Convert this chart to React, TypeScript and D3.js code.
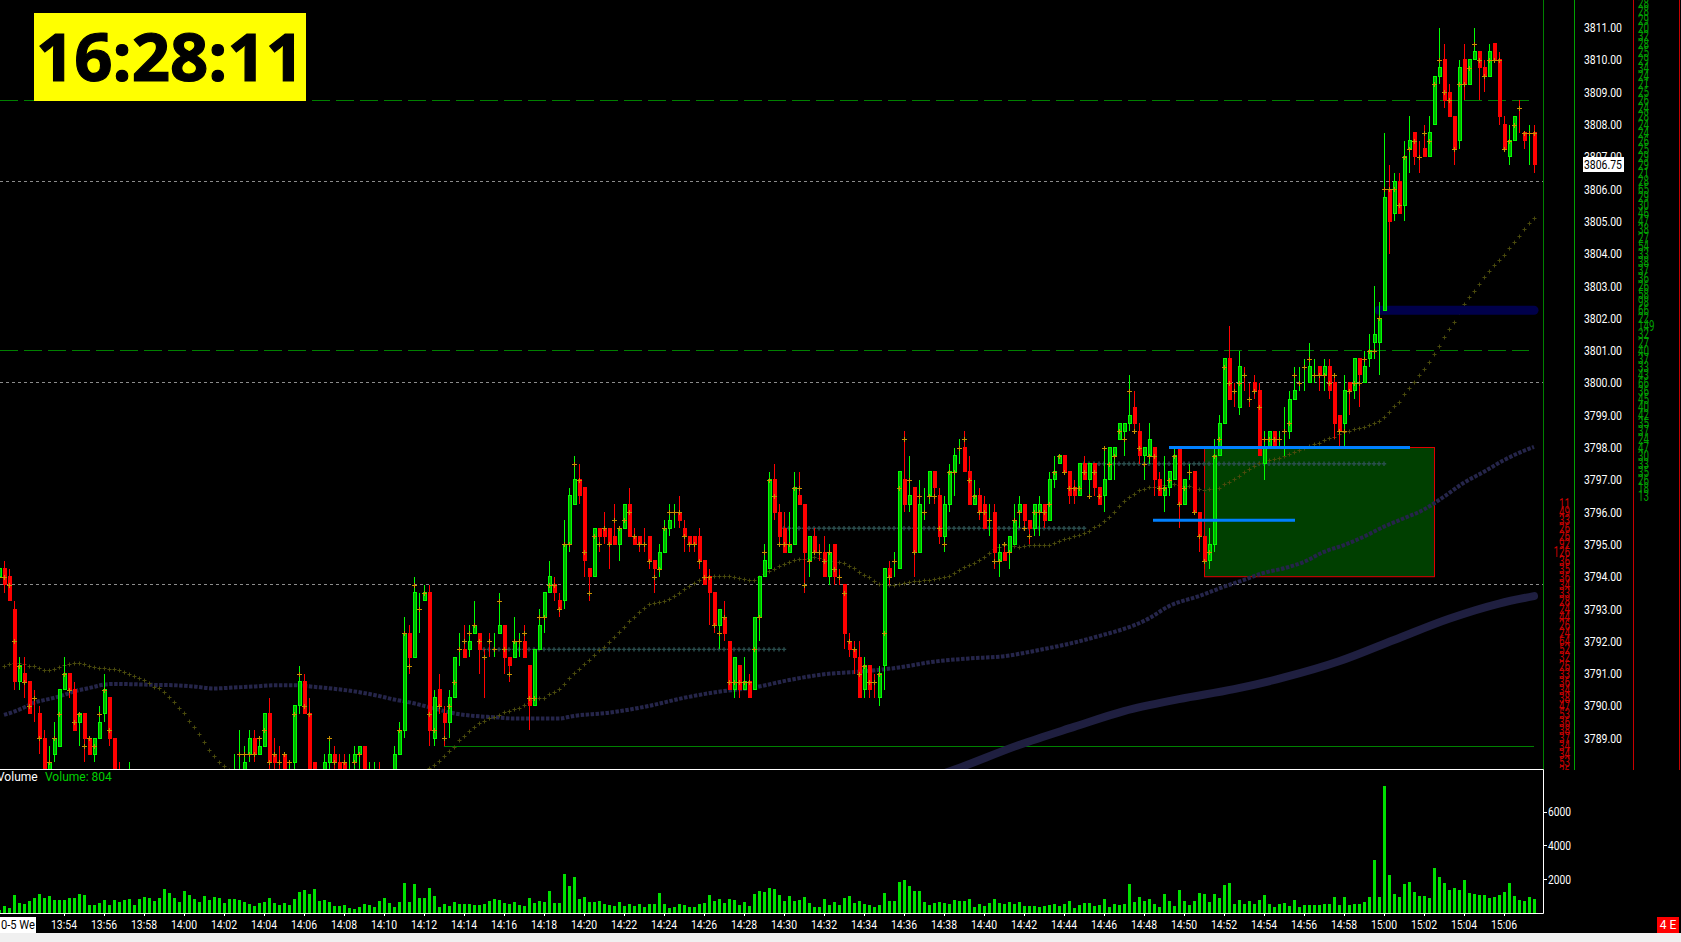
import React, { useEffect, useRef } from 'react';
import * as d3 from 'd3';

const opens = [
  3794,3794.25,3794,3793,3790.75,3791,3790.75,3789.75,3789.75,3789,
  3788,3788.5,3788.75,3790.5,3791,3790.5,3789.5,3789.75,3789,3788.5,
  3789,3789.75,3790.25,3789,3788,3787.5,3787.25,3787.75,3787.25,3787,
  3786.75,3786.5,3786.25,3786.5,3786.75,3786.5,3786.25,3786,3786.25,3786.5,
  3786.75,3786.75,3787,3787,3787.25,3787.25,3787.5,3787.25,3787.5,3788,
  3788.5,3789,3788.5,3788.75,3789.75,3788.5,3788.25,3788.5,3788.25,3788.25,
  3790,3790.75,3789.75,3788.25,3788,3788,3788.25,3788.5,3788.25,3788.25,
  3788,3788.25,3788.5,3788.75,3787.75,3787.75,3788,3787.75,3787.5,3788,
  3788.5,3789.25,3792.25,3791.5,3793.5,3793.25,3793.5,3789,3790.5,3789.75,
  3789.5,3790.25,3791.75,3791.75,3791.75,3792.25,3792.25,3791.75,3791.75,3792,
  3792.25,3792.5,3791.5,3791.5,3792,3792,3791.25,3790,3791.75,3792.75,
  3793.5,3793.75,3793.25,3793.25,3795,3796.25,3797,3796.75,3794.25,3794,
  3795.5,3795.5,3795.5,3795.25,3795,3795.5,3796.25,3795.25,3795.25,3795,
  3795.25,3794.5,3794.25,3794.75,3795.5,3796,3796,3795.5,3795.25,3795.25,
  3795.25,3794.5,3794,3793.5,3792.5,3792.75,3792,3790.5,3791.25,3790.5,
  3790.75,3790.5,3792.75,3794,3794.25,3797,3796,3795.5,3794.75,3795,
  3796.5,3796.25,3794.5,3795.25,3794.75,3794.75,3794,3795,3794,3793.75,
  3792,3791.75,3791.5,3790.5,3791.25,3790.5,3790.25,3791.25,3794.25,3794.25,
  3794.25,3797,3796.25,3796.75,3794.75,3796.5,3796.5,3797.25,3796.5,3795.25,
  3796.25,3797.25,3797.75,3798,3797.25,3796.25,3796.5,3796.25,3795.75,3796,
  3794.5,3794.75,3794.75,3795,3796,3796.25,3795.75,3795.5,3796,3796.25,
  3795.75,3797,3797.5,3797.75,3797.25,3796.75,3796.5,3797.5,3797,3797.5,
  3796.75,3796.5,3797,3797.75,3798.25,3798.5,3798.75,3799.25,3798.5,3797.75,
  3797.75,3798,3797,3796.5,3796.75,3797,3798,3796.25,3797,3797.25,
  3796,3795.25,3794.5,3795,3797.75,3798.75,3800.75,3799.5,3799.25,3800.25,
  3800,3800,3799.75,3797.5,3798,3798.5,3798.25,3798.5,3798.5,3799.5,
  3800,3800.25,3800,3800.5,3800.5,3800.25,3800.5,3800,3799,3798.75,
  3800,3799.75,3800.75,3800,3800.75,3801.25,3801.25,3802.25,3806,3805.25,
  3806.25,3805.5,3807.25,3807.75,3807,3807.25,3807,3808,3809.5,3810,
  3809,3808.25,3807.5,3810,3809.25,3810,3810.25,3809.75,3809.5,3810.5,
  3810,3808,3807,3807.5,3808,3807.75,3807.75,3807.75,
];
const closes = [
  3794.25,3793.75,3793.25,3790.75,3791.25,3790.75,3789.75,3789.75,3789,3788,
  3788.25,3789,3790.5,3791,3790.5,3789.25,3789.75,3789,3788.5,3789,
  3789.5,3790.5,3789,3788,3787.75,3787.5,3787.75,3787.25,3787,3786.75,
  3786.5,3786.25,3786.5,3786.75,3786.5,3786.25,3786,3786.25,3786.5,3786.75,
  3786.75,3787,3787,3787.25,3787.25,3787.5,3787.25,3787.75,3788,3788.25,
  3789,3788.5,3788.75,3789.75,3788.25,3788.25,3788.25,3788,3788.25,3790,
  3790.75,3789.75,3788,3788,3787.75,3788.25,3788.5,3788.25,3788,3788,
  3788,3788.5,3788.75,3788,3788,3788,3787.75,3787.5,3787.5,3788.5,
  3789.25,3792.25,3791.5,3793.5,3793.5,3793.5,3789.25,3790.25,3790,3789.5,
  3790.25,3791.5,3791.75,3791.5,3792,3792.5,3791.75,3791.75,3791.75,3792,
  3792.5,3791.5,3791.25,3792,3792,3791.5,3790,3791.75,3792.5,3793.5,
  3794,3793.5,3793,3795,3796.5,3797,3796.5,3794.5,3794,3795.5,
  3795.25,3795.25,3795,3795,3795.5,3796.25,3795.25,3795,3795,3795,
  3794.5,3794.25,3794.75,3795.5,3795.75,3796,3795.75,3795.25,3795,3795,
  3794.5,3793.75,3793.5,3792.5,3793,3792.25,3790.5,3791.5,3790.5,3790.75,
  3790.25,3792.75,3794,3794.5,3797,3796,3795.25,3794.75,3795,3796.75,
  3796.25,3794.75,3795.25,3794.75,3794.75,3794,3794.75,3794,3794,3792.25,
  3791.75,3791.5,3790.25,3791.25,3790.5,3790.5,3791,3794.25,3794,3794.25,
  3797.25,3796.25,3796.5,3794.75,3796.25,3796.5,3797.25,3796.75,3795.25,3796.25,
  3797.25,3797.75,3797.75,3797.25,3796.25,3796.5,3796,3795.5,3795.75,3794.75,
  3794.75,3794.5,3795.25,3795.75,3796.25,3795.75,3795.5,3796.25,3796.25,3795.75,
  3797,3797.25,3797.75,3797.25,3796.5,3796.5,3797.5,3797,3797.5,3796.75,
  3796.25,3797,3798,3798,3798.75,3798.75,3799,3798.75,3797.75,3798,
  3798.25,3797,3796.5,3796.75,3797.25,3797.75,3796.25,3797,3797,3796,
  3795.25,3794.5,3795,3797.75,3798.75,3800.75,3799.5,3799.5,3800.5,3800.25,
  3800,3799.75,3797.75,3798,3798.5,3798,3798.25,3798.5,3799.5,3799.75,
  3800,3800.25,3800.5,3800.5,3800.25,3800.5,3799.75,3798.75,3798.5,3799.75,
  3799.75,3800.75,3800.25,3800.5,3801,3801.5,3802,3805.75,3805,3806.25,
  3805.25,3807,3807.5,3807,3807,3807,3807.75,3809.5,3809.75,3808.75,
  3808.25,3807.25,3809.75,3809.25,3810,3810.25,3809.75,3809.5,3810.25,3810,
  3808.25,3807.25,3807.5,3808.25,3808,3807.5,3807.75,3806.75,
];
const highs = [
  3794.25,3794.5,3794.25,3793.25,3791.5,3791.5,3790.75,3790.5,3790,3789.25,
  3788.75,3789.5,3790.5,3791.5,3791,3790.75,3789.75,3789.75,3789,3789,
  3790,3791,3790.25,3789,3788.25,3787.75,3788.25,3787.75,3787.5,3787.25,
  3787,3786.75,3786.75,3787,3787,3786.75,3786.5,3786.5,3786.75,3787,
  3787,3787.25,3787.25,3787.5,3787.5,3787.75,3787.75,3788.5,3789.25,3788.75,
  3789.25,3789.25,3789,3789.75,3790.25,3789,3788.75,3788.5,3788.25,3790,
  3791.25,3791,3790.25,3788.25,3788,3788.5,3789,3788.75,3788.5,3788.5,
  3788.5,3788.75,3788.75,3788.75,3788.25,3788.25,3788.25,3788,3787.75,3788.75,
  3789.5,3792.75,3792.5,3794,3793.5,3793.75,3793.75,3790.5,3791,3790,
  3790.5,3791.5,3792.25,3792.5,3792.5,3793.25,3792.25,3791.75,3792.25,3792.25,
  3793.5,3792.5,3791.5,3792.75,3792.25,3792.5,3791.25,3791.75,3793,3793.5,
  3794.5,3794,3793.5,3795.75,3796.75,3797.75,3797.5,3796.75,3794.25,3795.5,
  3795.5,3796,3795.5,3796.25,3795.5,3796.25,3796.75,3795.5,3795.25,3795.5,
  3795.25,3794.5,3795,3795.75,3796.25,3796.25,3796.5,3795.75,3795.25,3795.25,
  3795.5,3794.5,3794.25,3793.5,3793,3793.25,3792,3791.5,3791.25,3791.5,
  3791,3792.75,3794,3795,3797.25,3797.5,3796.25,3796,3796,3797.25,
  3797.25,3796.25,3795.25,3795.5,3795,3795.25,3795,3795,3794.25,3793.75,
  3792.25,3792,3792,3791.5,3791.25,3791,3791.25,3794.25,3794.5,3794.75,
  3797.25,3798.5,3797.75,3796.75,3797,3796.75,3797.25,3797.25,3796.75,3796.5,
  3797.5,3798,3798.25,3798.5,3797.75,3797,3796.75,3796.5,3796.25,3796.25,
  3795,3795,3795.25,3796.25,3796.5,3796.25,3795.75,3796.25,3796.5,3796.25,
  3797.25,3797.75,3797.75,3797.75,3797.25,3797,3797.5,3797.75,3797.5,3797.5,
  3796.75,3798,3798,3798,3798.75,3798.75,3800.25,3799.75,3798.75,3798,
  3798.75,3798,3797.25,3797.75,3797.25,3798,3798,3797,3797.5,3797.25,
  3796,3795.25,3795.5,3798.25,3799,3800.75,3801.75,3800,3801,3800.5,
  3800,3800.25,3800,3798.5,3798.5,3798.5,3798.5,3799.25,3799.75,3800.5,
  3800.5,3800.75,3801.25,3800.75,3800.5,3800.75,3800.75,3800.25,3799,3800.25,
  3800,3800.75,3800.75,3801,3801.5,3803,3802.5,3807.75,3806.75,3806.5,
  3806.5,3807.5,3808.25,3807.75,3807.5,3808,3808.25,3809.5,3811,3810.5,
  3809.25,3808.25,3810,3810.5,3810,3811,3810.25,3810,3810.5,3810.5,
  3810.25,3808.25,3808,3808.25,3808.75,3807.75,3808,3808,
];
const lows = [
  3794,3793.5,3793.25,3790.5,3790.5,3790.25,3789.75,3789.5,3788.5,3787.75,
  3787.75,3788.25,3788.75,3790.5,3790.25,3789.25,3788.75,3788.25,3788.5,3788.25,
  3789,3789.5,3788.75,3787.5,3787.5,3787.25,3787,3787,3786.75,3786.5,
  3786.25,3786,3786,3786.25,3786.25,3786,3785.75,3785.75,3786,3786.25,
  3786.5,3786.5,3786.75,3786.75,3787,3787,3787,3787,3787.25,3787.75,
  3788.25,3788.25,3788.5,3788.75,3788,3787.75,3787.75,3787.5,3787.75,3787.75,
  3789.75,3789.75,3787.5,3787.75,3787.5,3787.5,3788,3787.75,3787.75,3787.5,
  3787.75,3788,3788,3787.5,3787.5,3787.5,3787.5,3787.25,3787.25,3787.5,
  3788.5,3789,3791,3791.5,3792.25,3793.25,3788.75,3788.75,3789.75,3788.75,
  3789,3790.25,3791.25,3791.5,3791.5,3792.25,3791,3790.25,3791.5,3791.5,
  3792.25,3791,3790.75,3791.5,3791.5,3791.5,3789.25,3790,3791.75,3792.25,
  3793.5,3793.25,3792.75,3793,3794.75,3796.25,3796.25,3794,3793.25,3794,
  3794.75,3795,3794.25,3795,3794.5,3795.5,3795.25,3795,3794.75,3794.75,
  3794.25,3793.5,3794,3794.75,3795.25,3795.5,3795.5,3794.75,3794.75,3794.75,
  3794.25,3793.75,3792.5,3792.25,3791.75,3792,3790.5,3790.25,3790.25,3790.5,
  3790.25,3790.5,3792,3794,3794.25,3795.75,3795,3794.75,3794.75,3795,
  3796.25,3793.5,3794,3794.75,3794.5,3794,3793.75,3793.75,3793.75,3791.75,
  3791.5,3791,3790.25,3790.25,3790.25,3790.25,3790,3790.5,3793.75,3794,
  3794.25,3796,3796,3794,3794.75,3795.75,3796.25,3796.25,3795,3794.75,
  3796,3796.5,3797.5,3797.25,3796.25,3796.25,3795.75,3795.5,3795.25,3794.25,
  3794,3794.5,3794.25,3795,3795.5,3795.5,3795,3795.25,3795.25,3795.5,
  3795.75,3796.75,3797.5,3797.25,3796.25,3796.25,3796.5,3797,3796.5,3796.5,
  3796.25,3796,3797,3797,3798.25,3797.75,3798.5,3798.5,3797.5,3797,
  3797.5,3796.5,3796.5,3796,3796.5,3797,3795.5,3796.25,3797,3796,
  3794.75,3794.25,3794.25,3794.75,3797.75,3798.75,3799.5,3799.25,3799,3799.75,
  3799.25,3799.5,3797.75,3797,3798,3798,3798,3797.75,3798.25,3799.5,
  3799.75,3799.75,3800,3800,3799.75,3799.75,3799.5,3798.25,3798,3798,
  3799,3799.5,3799.25,3800,3800.5,3800.75,3800.25,3802.25,3804,3805,
  3805.25,3805,3806.5,3806.75,3806.5,3807,3807,3808,3809.25,3808.5,
  3808.25,3806.75,3807.25,3808.75,3809.25,3810,3808.75,3809,3809.5,3810,
  3808,3807.25,3806.75,3807.5,3807.75,3807.25,3806.75,3806.5,
];
// the little yellow plus on each bar
const barMarks = [
  3794,3794,3793.75,3792,3791.25,3790.75,3790,3790.25,3789,3788,
  3788.25,3789,3789.75,3791,3790.5,3789.5,3789.75,3788.75,3789,3788.75,
  3789.75,3790.5,3789.25,3788,3787.75,3787.5,3787.5,3787.25,3787,3786.75,
  3786.5,3786.25,3786.5,3786.75,3786.5,3786.25,3786,3786.25,3786.5,3786.75,
  3786.75,3787,3787,3787.25,3787.25,3787.5,3787.25,3787.5,3788.5,3788.5,
  3788.5,3788.5,3789,3789.25,3788.25,3788.5,3788.25,3788.5,3788.25,3789.75,
  3791,3790,3789.75,3788,3787.75,3788,3789,3788.25,3788,3788.25,
  3788,3788.25,3788.5,3788,3787.75,3787.75,3787.75,3787.5,3787.5,3788,
  3789.25,3792.25,3791.25,3793.75,3793,3793.5,3789.75,3789.25,3790,3789,
  3790,3790.75,3791.75,3792,3792.25,3792.5,3792,3791.5,3792,3791.75,
  3793.25,3791.75,3791,3792,3792,3792.25,3790.25,3790.25,3792.75,3792.75,
  3793.75,3793.75,3793,3795,3795,3797.5,3797,3794.75,3793.5,3795.25,
  3795,3795.5,3795,3795.75,3795.5,3795.75,3796,3795.25,3795,3795,
  3794.5,3794,3794.25,3795.5,3796,3796,3796,3795.25,3795,3795,
  3794.5,3794,3794,3792.5,3792.25,3792.75,3790.75,3790.75,3790.75,3790.75,
  3790.75,3791.75,3792.75,3794.75,3797,3796.5,3795,3795,3795,3796.75,
  3796.75,3793.75,3794.5,3794.75,3794.75,3794.5,3794.75,3794.25,3794,3793.5,
  3792,3791.75,3791,3791.25,3790.75,3790.75,3791,3792.25,3794,3794.5,
  3796.75,3798.25,3797,3794.75,3796.5,3796,3796.5,3796.5,3795.5,3795,
  3797.25,3797.25,3798,3798.25,3797,3796.5,3796,3796,3795.75,3794.5,
  3794.5,3795,3794.75,3795.75,3796,3795.5,3795.25,3796,3796,3796,
  3796.25,3797.25,3797.75,3797.25,3796.75,3796.75,3796.75,3797.25,3796.5,3797.25,
  3796.5,3798,3797.5,3797.75,3798.5,3798.25,3799.75,3798.5,3798,3797.5,
  3797.75,3797.75,3796.75,3796.75,3797,3797.75,3796.25,3796.75,3797.25,3796,
  3795.25,3794.5,3794.75,3797.75,3798.25,3800.5,3800,3799.75,3800,3800.25,
  3799.5,3799.75,3799.25,3798.25,3798.25,3798.25,3798.25,3798.5,3798.75,3800.25,
  3800,3800.5,3800.75,3800.25,3800.25,3800.25,3800,3800.25,3798.5,3798.5,
  3799.75,3800,3800,3800.75,3801,3801,3802,3806,3806,3806,
  3805.5,3807,3807.25,3807.5,3807,3807.75,3807.5,3809.25,3810,3809,
  3808.75,3807.25,3809.25,3809.25,3809.75,3810.5,3810,3809.5,3810,3810,
  3810,3807.25,3807.5,3808,3808.5,3807.75,3807.75,3807.75,
];
// open == close bars that print red
const redDojiBars = [7, 56, 97, 98, 129, 164, 168, 175, 247, 249, 250, 251, 284, 304];
const volumes = [
  200,430,300,1080,590,530,690,910,1120,910,
  1020,750,750,790,910,910,1120,1080,490,490,
  590,790,490,790,630,790,850,490,850,970,
  910,730,910,1420,1200,910,630,1320,1080,850,
  630,1020,790,970,910,590,850,850,790,630,
  530,430,590,650,910,590,490,590,490,850,
  1260,1380,1140,1440,730,790,650,430,390,490,
  320,260,370,550,490,370,730,910,610,370,
  650,1790,670,1730,910,910,1500,1020,370,550,
  430,670,550,550,530,490,490,550,730,850,
  790,610,550,670,470,430,910,610,730,670,
  1320,610,610,2320,1620,2150,850,970,670,670,
  730,550,490,430,670,430,550,430,550,370,
  550,550,1200,550,320,370,550,490,370,370,
  550,610,1080,730,850,610,850,790,490,670,
  430,1140,1320,1260,1500,1440,1080,730,1020,730,
  790,970,610,370,370,850,490,670,490,910,
  1020,610,730,550,490,370,490,1200,730,730,
  1850,1970,1620,1320,1320,670,490,610,670,610,
  550,790,730,730,850,370,550,430,610,850,
  610,550,670,550,670,430,390,430,370,430,
  490,550,430,550,730,320,490,610,610,430,
  490,850,370,550,490,550,1730,670,970,730,
  850,550,370,1140,730,430,1380,730,490,730,
  1200,1140,670,1140,910,1670,1790,550,790,550,
  730,550,790,1080,550,370,550,610,430,790,
  370,490,490,490,490,550,550,970,490,970,
  490,550,550,670,970,3150,970,7530,2270,1140,
  970,1730,1850,1260,1020,1020,910,2680,2150,1790,
  1380,1500,1380,1970,1200,1140,1080,1080,910,970,
  1080,1260,1790,1020,790,730,970,804,
];

// olive moving average, two visible stretches, the middle runs under the panel
const oliveStartA = 1;
const oliveA = [
  3791.23,3791.30,3791.32,3791.32,3791.30,3791.25,3791.23,3791.18,3791.11,3791.10,
  3791.13,3791.21,3791.27,3791.31,3791.33,3791.32,3791.29,3791.24,3791.21,3791.18,
  3791.17,3791.15,3791.13,3791.11,3791.06,3790.99,3790.92,3790.85,3790.80,3790.70,
  3790.59,3790.54,3790.42,3790.28,3790.11,3789.94,3789.77,3789.54,3789.34,3789.13,
  3788.89,3788.65,3788.45,3788.27,3788.14,3788.01,
];
const oliveStartB = 86;
const oliveB = [
  3788.07,3788.17,3788.29,3788.45,3788.61,3788.74,3788.94,3789.08,3789.23,3789.36,
  3789.46,3789.54,3789.61,3789.67,3789.72,3789.80,3789.85,3789.89,3789.95,3790.03,
  3790.10,3790.18,3790.23,3790.26,3790.36,3790.42,3790.51,3790.67,3790.85,3791.01,
  3791.15,3791.29,3791.42,3791.57,3791.73,3791.83,3791.98,3792.12,3792.28,3792.43,
  3792.63,3792.76,3792.91,3793.03,3793.15,3793.18,3793.22,3793.26,3793.31,3793.40,
  3793.49,3793.61,3793.71,3793.81,3793.90,3793.97,3794.00,3794.02,3794.02,3794.02,
  3794.02,3793.99,3793.97,3793.92,3793.90,3793.91,3794.00,3794.09,3794.17,3794.25,
  3794.33,3794.39,3794.45,3794.51,3794.54,3794.56,3794.58,3794.61,3794.59,3794.56,
  3794.52,3794.49,3794.47,3794.41,3794.33,3794.26,3794.15,3794.06,3793.98,3793.88,
  3793.78,3793.76,3793.74,3793.74,3793.77,3793.80,3793.83,3793.86,3793.87,3793.89,
  3793.91,3793.93,3793.95,3793.98,3794.03,3794.10,3794.21,3794.31,3794.35,3794.41,
  3794.52,3794.62,3794.74,3794.85,3794.93,3794.98,3794.98,3794.96,3794.93,3794.96,
  3794.98,3794.99,3794.99,3794.99,3794.99,3795.05,3795.10,3795.16,3795.21,3795.26,
  3795.30,3795.34,3795.42,3795.53,3795.60,3795.71,3795.86,3795.99,3796.18,3796.33,
  3796.48,3796.56,3796.67,3796.73,3796.77,3796.79,3796.81,3796.83,3796.84,3796.86,
  3796.84,3796.82,3796.82,3796.79,3796.73,3796.68,3796.70,3796.72,3796.76,3796.86,
  3796.92,3797.01,3797.12,3797.23,3797.34,3797.44,3797.51,3797.56,3797.61,3797.63,
  3797.67,3797.74,3797.80,3797.87,3797.92,3797.98,3798.06,3798.10,3798.15,3798.22,
  3798.30,3798.34,3798.43,3798.47,3798.50,3798.56,3798.61,3798.65,3798.71,3798.75,
  3798.81,3798.95,3799.11,3799.27,3799.40,3799.66,3799.83,3800.04,3800.23,3800.42,
  3800.64,3800.89,3801.13,3801.41,3801.66,3801.90,3802.20,3802.44,3802.65,3802.85,
  3803.05,3803.27,3803.46,3803.64,3803.80,3803.95,3804.17,3804.35,3804.55,3804.75,
  3804.94,3805.09,
];

// slower averages, read at these bars
const midMaBars = [
  1,3,5,7,9,11,13,15,17,19,21,23,27,31,35,39,43,47,51,55,59,63,67,71,75,79,83,87,91,95,99,103,107,112,
  115,122,130,137,144,151,158,165,172,180,187,194,201,208,215,219,
  230,234,240,245,249,253,257,261,265,269,273,277,281,285,289,293,297,301,305,307,
];
const midMaValues = [
  3789.72,3789.82,3789.95,3790.10,3790.18,3790.25,3790.34,3790.45,3790.52,3790.59,3790.66,3790.68,
  3790.67,3790.65,3790.64,3790.60,3790.54,3790.57,3790.60,3790.64,3790.64,3790.59,3790.53,3790.45,
  3790.34,3790.20,3790.08,3789.92,3789.77,3789.69,3789.65,3789.61,3789.61,3789.61,
  3789.69,3789.79,3790.00,3790.25,3790.44,3790.57,3790.80,3790.98,3791.06,3791.19,3791.37,3791.47,
  3791.54,3791.73,3791.96,3792.12,
  3792.71,3793.09,3793.40,3793.69,3793.90,3794.12,3794.26,3794.46,3794.77,3794.98,3795.24,3795.55,
  3795.81,3796.08,3796.48,3796.91,3797.25,3797.61,3797.90,3798.02,
];
const longMaBars = [186, 191, 204, 215, 225, 236, 247, 257, 268, 279, 290, 300, 307];
const longMaValues = [3787.75, 3788.02, 3788.79, 3789.35, 3789.84, 3790.21, 3790.52, 3790.88, 3791.38, 3792.04, 3792.7, 3793.17, 3793.4];

const priceTicks = [3811, 3810, 3809, 3808, 3807, 3806, 3805, 3804, 3803, 3802, 3801, 3800, 3799, 3798, 3797, 3796, 3795, 3794, 3793, 3792, 3791, 3790, 3789];
const volumeTicks = [6000, 4000, 2000];
const timeLabels = [
  '13:54','13:56','13:58','14:00','14:02','14:04','14:06','14:08','14:10','14:12','14:14','14:16','14:18',
  '14:20','14:22','14:24','14:26','14:28','14:30','14:32','14:34','14:36','14:38','14:40','14:42','14:44','14:46',
  '14:48','14:50','14:52','14:54','14:56','14:58','15:00','15:02','15:04','15:06',
];
// depth ladder printed next to the axis, a row every quarter point
const askTop = 3811.75;
const askSizes = [
  28,28,29,20,32,28,25,29,34,24,21,25,26,24,28,24,24,26,25,29,
  29,21,28,65,29,30,46,47,38,27,54,33,38,37,36,26,58,98,66,22,
  149,32,27,40,37,33,43,66,36,45,40,42,35,37,24,47,30,33,35,26,18,13,
];
const bidTop = 3796.25;
const bidSizes = [11,49,33,26,26,92,126,36,35,36,34,33,28,24,44,26,24,64,52,32,26,33,36,34,38,47,53,36,38,37,34,34,53,36];

const dashedWhite = [3806.25, 3800, 3793.75];
const dashedGreen = [3808.75, 3801];
const fadedLevels = [
  { price: 3791.75, from: 97, to: 157 },
  { price: 3795.5, from: 157, to: 217 },
  { price: 3797.5, from: 217, to: 277 },
];

const WIDTH = 1681, HEIGHT = 942;
const PANEL_R = 1543, PRICE_B = 769, VOL_B = 913;
const FONT = 'Roboto, "Open Sans", sans-serif';

export default function App() {
  const ref = useRef<SVGSVGElement | null>(null);

  useEffect(() => {
    document.body.style.margin = '0';
    document.body.style.background = '#f0f0f0';
    const svg = d3.select(ref.current);
    svg.selectAll('*').remove();

    const x = d3.scaleLinear().domain([0, 307]).range([-1, 1534]);
    const y = d3.scaleLinear().domain([3794, 3811]).range([576.7, 27.6]);
    const v = d3.scaleLinear().domain([0, 6000]).range([VOL_B, 811.7]);

    svg.append('rect').attr('width', WIDTH).attr('height', 933).attr('fill', '#000');

    svg.append('defs').append('clipPath').attr('id', 'priceClip')
      .append('rect').attr('width', PANEL_R).attr('height', PRICE_B);
    svg.append('defs').append('clipPath').attr('id', 'ladderClip')
      .append('rect').attr('width', WIDTH).attr('height', PRICE_B + 1);

    const price = svg.append('g').attr('clip-path', 'url(#priceClip)');

    // levels
    dashedWhite.forEach(p => {
      const ly = Math.floor(y(p)) + 0.5;
      price.append('line').attr('x1', 0).attr('x2', PANEL_R).attr('y1', ly).attr('y2', ly)
        .attr('stroke', '#8c8c8c').attr('stroke-dasharray', '3 3');
    });
    dashedGreen.forEach(p => {
      const ly = Math.floor(y(p)) + 0.5;
      price.append('line').attr('x1', 0).attr('x2', 1529).attr('y1', ly).attr('y2', ly)
        .attr('stroke', '#008000').attr('stroke-dasharray', '18 6');
    });
    const greenLevel = Math.floor(y(3788.75)) + 0.5;
    price.append('line').attr('x1', 444).attr('x2', x(307)).attr('y1', greenLevel).attr('y2', greenLevel)
      .attr('stroke', '#008000');

    // zone box
    price.append('rect').attr('x', 1204.5).attr('y', y(3798)).attr('width', 230).attr('height', y(3794) - y(3798))
      .attr('fill', '#003f00').attr('stroke', '#e00000').attr('stroke-width', 1);

    // averages
    const cross = d3.symbol().type(d3.symbolCross);
    fadedLevels.forEach(l => {
      price.append('g').selectAll('path').data(d3.range(l.from, l.to + 1)).join('path')
        .attr('d', cross.size(11)())
        .attr('transform', d => `translate(${x(d)},${y(l.price)})`)
        .attr('fill', '#2c5050').attr('fill-opacity', 0.95);
    });

    const maLine = d3.line<number>()
      .x((_, i) => x(longMaBars[i]))
      .y(d => y(d))
      .curve(d3.curveMonotoneX);
    price.append('path').attr('d', maLine(longMaValues))
      .attr('fill', 'none').attr('stroke', '#1f1f40').attr('stroke-width', 8).attr('stroke-linecap', 'round');

    const midLine = d3.line<number>()
      .x((_, i) => x(midMaBars[i]))
      .y(d => y(d))
      .curve(d3.curveMonotoneX);
    price.append('path').attr('d', midLine(midMaValues))
      .attr('fill', 'none').attr('stroke', '#25254a').attr('stroke-width', 4).attr('stroke-dasharray', '3.5 1.5');

    const olivePlus = (vals: number[], start: number) => {
      price.append('g').selectAll('path').data(vals).join('path')
        .attr('d', (d, i) => {
          const px = Math.round(x(start + i)) + 0.5, py = Math.round(y(d)) + 0.5;
          return `M${px - 2},${py}h4M${px},${py - 2}v4`;
        })
        .attr('stroke', '#4a4a0c').attr('fill', 'none');
    };
    olivePlus(oliveA, oliveStartA);
    olivePlus(oliveB, oliveStartB);

    // navy order band
    price.append('line').attr('x1', x(276)).attr('x2', 1534).attr('y1', y(3802.25)).attr('y2', y(3802.25))
      .attr('stroke', '#00004a').attr('stroke-width', 9).attr('stroke-linecap', 'round');

    // candles
    const isUp = (i: number) => closes[i] > opens[i] || (closes[i] === opens[i] && !redDojiBars.includes(i));
    const candles = price.append('g').attr('shape-rendering', 'crispEdges');
    candles.selectAll('line').data(opens).join('line')
      .attr('x1', (_, i) => x(i) + 0.5).attr('x2', (_, i) => x(i) + 0.5)
      .attr('y1', (_, i) => y(highs[i])).attr('y2', (_, i) => y(lows[i]))
      .attr('stroke', (_, i) => isUp(i) ? '#00ff00' : '#ff0000');
    candles.selectAll('rect').data(opens).join('rect')
      .attr('x', (_, i) => x(i) - 1)
      .attr('y', (d, i) => y(Math.max(d, closes[i])))
      .attr('width', 3)
      .attr('height', (d, i) => Math.abs(y(d) - y(closes[i])))
      .attr('fill', (_, i) => isUp(i) ? '#00b000' : '#ff0000')
      .attr('stroke', (_, i) => isUp(i) ? '#00ff00' : '#ff0000');

    price.append('g').selectAll('path').data(barMarks).join('path')
      .attr('d', (d, i) => {
        const px = Math.round(x(i)) + 0.5, py = Math.round(y(d)) + 0.5;
        return `M${px - 2.5},${py}h5M${px},${py - 2.5}v5`;
      })
      .attr('stroke', '#c89000').attr('fill', 'none');

    // blue levels
    price.append('line').attr('x1', 1169).attr('x2', 1410).attr('y1', y(3798)).attr('y2', y(3798))
      .attr('stroke', '#0080ff').attr('stroke-width', 3);
    price.append('line').attr('x1', 1153).attr('x2', 1295).attr('y1', y(3795.75)).attr('y2', y(3795.75))
      .attr('stroke', '#0080ff').attr('stroke-width', 3);

    // right side rules
    [[PANEL_R, '#008000'], [1574, '#00a000'], [1633, '#c80000'], [1679, '#c80000']].forEach(([px, col]) => {
      svg.append('line').attr('x1', (px as number) + 0.5).attr('x2', (px as number) + 0.5).attr('y1', 0).attr('y2', PRICE_B + 1)
        .attr('stroke', col as string);
    });

    // ladders
    const ladder = svg.append('g').attr('clip-path', 'url(#ladderClip)').attr('font-family', FONT).attr('font-size', 14);
    ladder.selectAll('text.ask').data(askSizes).join('text').attr('class', 'ask')
      .attr('x', 1638).attr('y', (_, i) => y(askTop - i * 0.25) + 5)
      .attr('textLength', d => String(d).length * 5.5).attr('lengthAdjust', 'spacingAndGlyphs')
      .attr('fill', '#00a000').text(d => d);
    ladder.selectAll('text.bid').data(bidSizes).join('text').attr('class', 'bid')
      .attr('x', d => 1570 - String(d).length * 5.5).attr('y', (_, i) => y(bidTop - i * 0.25) + 5)
      .attr('textLength', d => String(d).length * 5.5).attr('lengthAdjust', 'spacingAndGlyphs')
      .attr('fill', '#c80000').text(d => d);

    // price axis
    svg.append('g').attr('font-family', FONT).attr('font-size', 12).attr('fill', '#fff')
      .selectAll('text').data(priceTicks).join('text')
      .attr('x', 1584).attr('y', d => y(d) + 4.5)
      .attr('textLength', 38).attr('lengthAdjust', 'spacingAndGlyphs')
      .text(d => d.toFixed(2));
    svg.append('rect').attr('x', 1583).attr('y', 157).attr('width', 41).attr('height', 15).attr('fill', '#fff');
    svg.append('text').attr('x', 1584).attr('y', y(3806.75) + 4.5)
      .attr('font-family', FONT).attr('font-size', 12).attr('fill', '#000')
      .attr('textLength', 38).attr('lengthAdjust', 'spacingAndGlyphs').text('3806.75');

    // volume panel
    svg.append('g').attr('shape-rendering', 'crispEdges').selectAll('rect').data(volumes).join('rect')
      .attr('x', (_, i) => x(i) - 1)
      .attr('y', d => v(d))
      .attr('width', 2.5)
      .attr('height', d => VOL_B - v(d))
      .attr('fill', '#00e000');

    svg.append('path').attr('d', `M0,${PRICE_B + 0.5}H${PANEL_R + 0.5}V${VOL_B + 0.5}H0`)
      .attr('fill', 'none').attr('stroke', '#fff');

    svg.append('text').attr('x', -3).attr('y', 781).attr('font-family', FONT).attr('font-size', 12).attr('fill', '#fff').text('Volume');
    svg.append('text').attr('x', 45).attr('y', 781).attr('font-family', FONT).attr('font-size', 12).attr('fill', '#00d000').text('Volume: 804');

    volumeTicks.forEach(t => {
      svg.append('line').attr('x1', PANEL_R).attr('x2', 1547).attr('y1', Math.round(v(t)) + 0.5).attr('y2', Math.round(v(t)) + 0.5).attr('stroke', '#fff');
      svg.append('text').attr('x', 1548).attr('y', v(t) + 4.5).attr('font-family', FONT).attr('font-size', 12).attr('fill', '#fff')
        .attr('textLength', 23).attr('lengthAdjust', 'spacingAndGlyphs').text(t);
    });

    // time axis
    const timeAxis = svg.append('g').attr('font-family', FONT).attr('font-size', 12).attr('fill', '#fff');
    timeLabels.forEach((t, i) => {
      const px = x(13 + i * 8);
      timeAxis.append('line').attr('x1', px + 0.5).attr('x2', px + 0.5).attr('y1', VOL_B).attr('y2', VOL_B + 3).attr('stroke', '#fff');
      timeAxis.append('text').attr('x', px - 13).attr('y', 929)
        .attr('textLength', 26).attr('lengthAdjust', 'spacingAndGlyphs').text(t);
    });
    svg.append('rect').attr('x', 0).attr('y', 917).attr('width', 36).attr('height', 16).attr('fill', '#fff');
    svg.append('text').attr('x', 1).attr('y', 929).attr('font-family', FONT).attr('font-size', 12).attr('fill', '#000')
      .attr('textLength', 34).attr('lengthAdjust', 'spacingAndGlyphs').text('0-5 We');

    svg.append('rect').attr('x', 1657).attr('y', 917).attr('width', 22).attr('height', 16).attr('fill', '#ff0000');
    svg.append('text').attr('x', 1668).attr('y', 929).attr('text-anchor', 'middle').attr('font-family', FONT).attr('font-size', 12).attr('fill', '#fff').text('4 E');

    // clock
    svg.append('rect').attr('x', 34).attr('y', 13).attr('width', 272).attr('height', 88).attr('fill', '#ffff00');
    svg.append('text').attr('x', 170).attr('y', 81).attr('text-anchor', 'middle')
      .attr('font-family', '"Open Sans", sans-serif').attr('font-weight', 700).attr('font-size', 67)
      .attr('stroke', '#000').attr('stroke-width', 1.2).attr('fill', '#000').text('16:28:11');
  }, []);

  return <svg ref={ref} width={WIDTH} height={HEIGHT} style={{ display: 'block' }} />;
}
